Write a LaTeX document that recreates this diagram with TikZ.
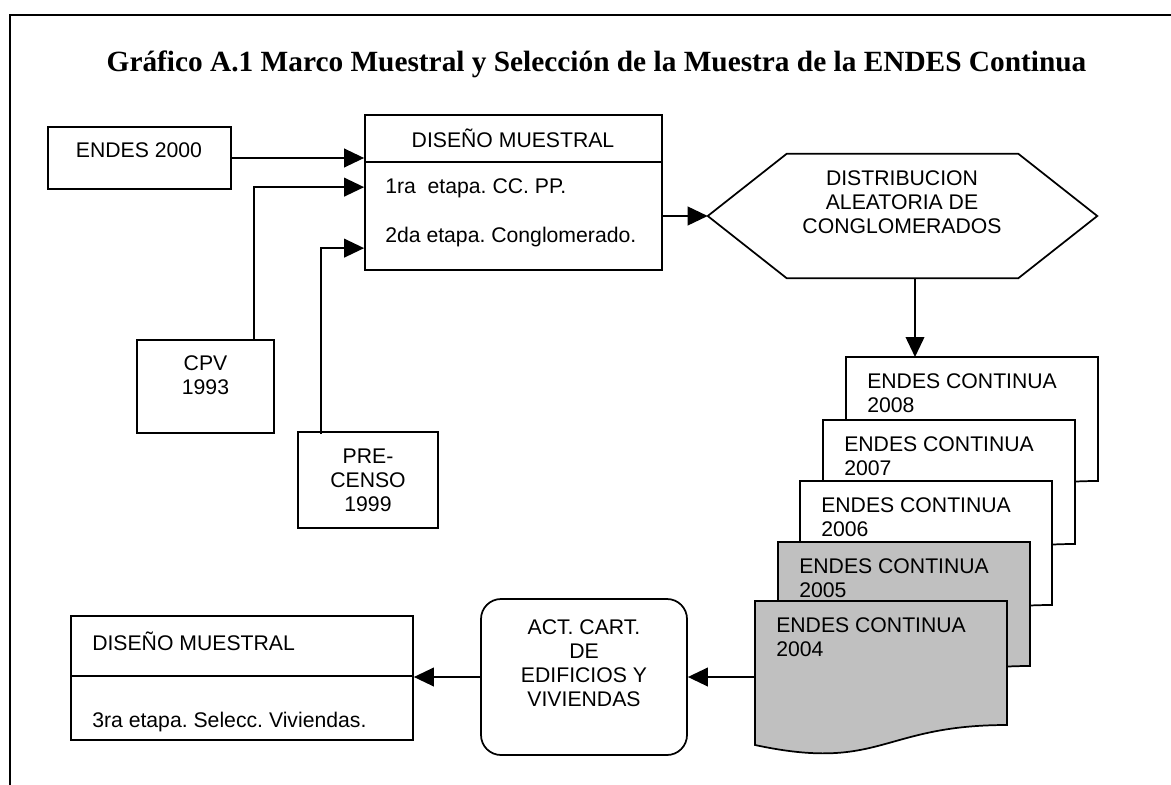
\documentclass[tikz,border=0pt]{standalone}
\usepackage{fontspec}
\setmainfont{Liberation Sans}
\newfontfamily\titlefont{Liberation Serif}
\usetikzlibrary{arrows.meta,fit,calc}
\definecolor{docgray}{HTML}{C0C0C0}
\frenchspacing
\tikzset{
  ln/.style={line width=1.3pt},
  box/.style={draw, ln, inner sep=0pt},
  arr/.style={ln, -{Triangle[length=15pt,width=14pt]}},
  txt/.style={inner sep=0pt, font=\fontsize{15.9}{18}\selectfont, align=center},
  ltxt/.style={txt, anchor=west, align=left},
}
\newcommand\mydocbox[4]{%
  \begin{scope}[shift={(#1,#2)}]
    \filldraw[ln, fill=#3] (0,0) -- (252,0) -- (252,124)
      .. controls (126,124) and (126,171) .. (0,144) -- cycle;
    \node[txt, anchor=north west, align=left] (t#4) at (21,16) {ENDES CONTINUA\\#4};
    \coordinate (d#4) at (0,0);
  \end{scope}}
\begin{document}
\begin{tikzpicture}[x=0.75pt,y=-0.75pt]
\useasboundingbox (0,0) rectangle (1171,785);
\draw[line width=2.2pt] (10,786) -- (10,15) -- (1172,15);
\node[font=\titlefont\bfseries\fontsize{22}{25}\selectfont, inner sep=0pt] (title) at (596.5,64)
  {Gráfico A.1 Marco Muestral y Selección de la Muestra de la ENDES Continua};

% ENDES 2000
\node[box, fit={(48,127)(231,189)}] (e2000) {};
\node[txt] (e2000t) at (139,150) {ENDES 2000};

% Diseno muestral
\node[box, fit={(365,115)(662,270)}] (dm) {};
\draw[ln] ($(dm.north west)+(0,48)$) -- ($(dm.north east)+(0,48)$);
\node[txt] (dmt) at (513,138) {DISEÑO MUESTRAL};
\node[ltxt] (dm1t) at (385,188) {1ra\ \ etapa. CC. PP.};
\node[ltxt] (dm2t) at (385,237) {2da etapa. Conglomerado.};

% CPV
\node[box, fit={(137,340)(274,433)}] (cpv) {};
\node[txt] (cpvt) at (205.5,375) {CPV\\1993};

% PRE-CENSO
\node[box, fit={(298,432)(438,528)}] (pre) {};
\node[txt] (pret) at (368,480) {PRE-\\CENSO\\1999};

% hexagon
\node[inner sep=0pt, fit={(708,154)(1097,278)}] (hex) {};
\draw[ln] (hex.west) -- ($(hex.north west)+(79,0)$) -- ($(hex.north east)+(-79,0)$)
  -- (hex.east) -- ($(hex.south east)+(-79,0)$) -- ($(hex.south west)+(79,0)$) -- cycle;
\node[txt] (hext) at (902,202) {DISTRIBUCION\\ALEATORIA DE\\CONGLOMERADOS};

% documents
\mydocbox{846}{357}{white}{2008}
\mydocbox{823}{420}{white}{2007}
\mydocbox{800}{481}{white}{2006}
\mydocbox{778}{542}{docgray}{2005}
\mydocbox{755}{601}{docgray}{2004}

% ACT box
\node[box, rounded corners=15pt, fit={(481,599)(687,755)}] (act) {};
\node[txt] (actt) at (584,663) {ACT. CART.\\DE\\EDIFICIOS Y\\VIVIENDAS};

% Diseno muestral 2
\node[box, fit={(71,616)(413,740)}] (dmb) {};
\draw[ln] ($(dmb.north west)+(0,61)$) -- ($(dmb.north east)+(0,61)$);
\node[ltxt] (dmbt) at (92,641) {DISEÑO MUESTRAL};
\node[ltxt] (dmb2t) at (92,722) {3ra etapa. Selecc. Viviendas.};

% connectors
\draw[arr] (e2000.east) -- (dm.west |- e2000.east);
\draw[arr] ($(cpv.north west)!0.847!(cpv.north east)$) |- ($(dm.north west)+(0,73)$);
\draw[arr] ($(pre.north west)!0.17!(pre.north east)+(0,3)$) |- ($(dm.north west)+(0,134)$);
\draw[arr] (dm.east |- hex.west) -- (hex.west);
\coordinate (dtop) at ($(d2008)+(69,0)$);
\draw[arr] (hex.south -| dtop) -- (dtop);
\coordinate (d2004w) at ($(d2004)+(0,76)$);
\draw[arr] (d2004w) -- (act.east |- d2004w);
\draw[arr] (act.west) -- (dmb.east |- act.west);
\end{tikzpicture}
\end{document}
